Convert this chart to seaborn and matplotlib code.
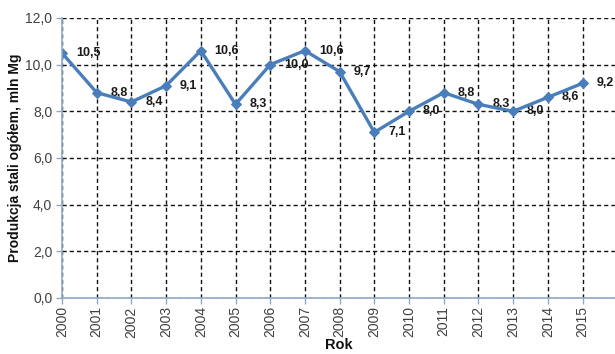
import matplotlib
matplotlib.use("Agg")
import matplotlib.pyplot as plt
import seaborn as sns
import pandas as pd
from matplotlib.ticker import FuncFormatter, MultipleLocator

years = list(range(2000, 2016))
production = [10.5, 8.8, 8.4, 9.1, 10.6, 8.3, 10.0, 10.6, 9.7, 7.1, 8.0, 8.8, 8.3, 8.0, 8.6, 9.2]
value_labels = ["10,5", "8,8", "8,4", "9,1", "10,6", "8,3", "10,0", "10,6", "9,7",
                "7,1", "8,0", "8,8", "8,3", "8,0", "8,6", "9,2"]

df = pd.DataFrame({"Rok": years, "Produkcja": production})

sns.set_style("white")
plt.rcParams["font.family"] = ["Liberation Sans", "DejaVu Sans"]

fig = plt.figure(figsize=(6.15, 3.54), dpi=100)
ax = fig.add_axes([0.1008, 0.1582, 0.9, 0.7910])

line_color = "#4A7EBB"
sns.lineplot(data=df, x="Rok", y="Produkcja", ax=ax, color=line_color,
             linewidth=2.4, marker="D", markersize=5.5, markeredgecolor=line_color,
             zorder=2)

for x, y, lab in zip(years, production, value_labels):
    ax.annotate(lab, (x, y), xytext=(10, 0), textcoords="offset points",
                ha="left", va="center", fontsize=9, fontweight="bold",
                color="#1a1a1a", zorder=1)

ax.set_xlim(2000, 2015.95)
ax.set_ylim(0, 12)
ax.yaxis.set_major_locator(MultipleLocator(2))
ax.yaxis.set_major_formatter(FuncFormatter(lambda v, p: f"{v:.1f}".replace(".", ",")))
ax.set_xticks(years)
ax.set_xticklabels([str(y) for y in years], rotation=90)

ax.set_axisbelow("line")
ax.grid(True, color="#111111", linestyle=(0, (3, 2.2)), linewidth=1.0)

spine_color = "#8FAAC4"
for side in ("top", "right"):
    ax.spines[side].set_visible(False)
for side in ("left", "bottom"):
    ax.spines[side].set_color(spine_color)
    ax.spines[side].set_linewidth(1.2)

ax.tick_params(axis="both", which="major", length=4, width=1, color=spine_color,
               labelsize=10, labelcolor="#404040", direction="out")
ax.tick_params(axis="x", bottom=True, pad=2)
ax.tick_params(axis="y", left=True, pad=3)

ax.set_xlabel("Rok", fontsize=10.5, fontweight="bold", color="#111111", labelpad=0)
ax.set_ylabel("Produkcja stali ogółem, mln Mg", fontsize=10, fontweight="bold",
              color="#111111", labelpad=2)

fig.savefig("out.png", dpi=100)
